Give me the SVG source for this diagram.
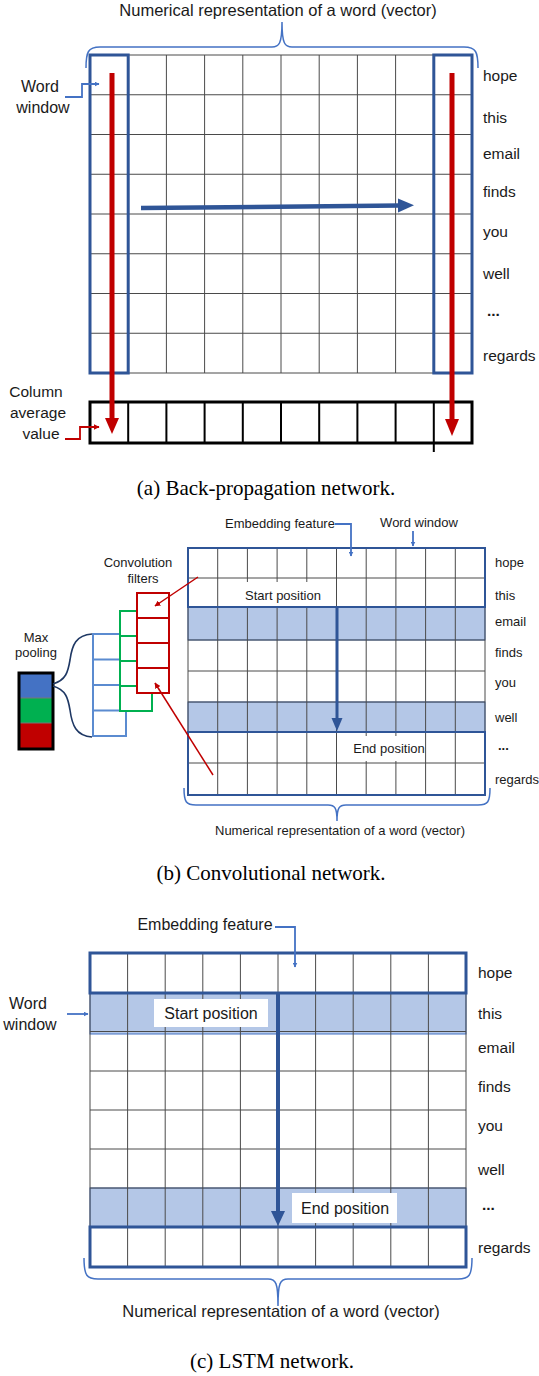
<svg xmlns="http://www.w3.org/2000/svg" width="539" height="1376" viewBox="0 0 539 1376">
  <style>
    .lbl { font-family: "Liberation Sans", Arial, sans-serif; fill: #1a1a1a; }
    .dots { font-weight: bold; }
    .cap { font-family: "Liberation Serif", "Times New Roman", serif; fill: #000; font-size: 21px; }
    .grid { fill: none; stroke: #4a4a4a; stroke-width: 1; }
    .win { fill: none; stroke: #2F5597; }
    .shade { fill: #B4C7E7; stroke: #4472C4; stroke-width: 1; }
    .brace { fill: none; stroke: #4472C4; stroke-width: 1.5; }
    .lead { fill: none; stroke: #4472C4; stroke-width: 1.8; }
    .redlead { fill: none; stroke: #C00000; stroke-width: 1.8; }
    .mask { fill: #fff; stroke: none; }
  </style>
  <defs>
    <marker id="arrBlue" viewBox="0 0 10 10" refX="9" refY="5" markerWidth="5" markerHeight="5" orient="auto" markerUnits="userSpaceOnUse">
      <path d="M0,0 L10,5 L0,10 z" fill="#4472C4"/>
    </marker>
    <marker id="arrRed" viewBox="0 0 10 10" refX="9" refY="5" markerWidth="6" markerHeight="6" orient="auto" markerUnits="userSpaceOnUse">
      <path d="M0,0 L10,5 L0,10 z" fill="#C00000"/>
    </marker>
  </defs>

  <!-- ===== Panel (a): back-propagation ===== -->
  <g id="panel-a">
    <text class="lbl" x="278" y="16" font-size="16.5" text-anchor="middle">Numerical representation of a word (vector)</text>
    <path class="brace" d="M86,68 C86,52 88,47 100,47 H272 C279,47 282,44 282,22 C282,44 285,47 292,47 H464 C476,47 478,52 478,68"/>

    <g id="a-matrix">
      <path class="grid" d="M90,55 V373 M128.2,55 V373 M166.4,55 V373 M204.6,55 V373 M242.8,55 V373 M281,55 V373 M319.2,55 V373 M357.4,55 V373 M395.6,55 V373 M433.8,55 V373 M472,55 V373
        M90,55 H472 M90,94.75 H472 M90,134.5 H472 M90,174.25 H472 M90,214 H472 M90,253.75 H472 M90,293.5 H472 M90,333.25 H472 M90,373 H472"/>
    </g>
    <g id="a-window-left"><rect class="win" x="90" y="55" width="38.2" height="318" stroke-width="3"/></g>
    <g id="a-window-right"><rect class="win" x="433.8" y="55" width="38.2" height="318" stroke-width="3"/></g>

    <g id="a-average-row">
      <rect x="90" y="402" width="382" height="41" fill="none" stroke="#000" stroke-width="3"/>
      <path d="M128.2,402 V443 M166.4,402 V443 M204.6,402 V443 M242.8,402 V443 M281,402 V443 M319.2,402 V443 M357.4,402 V443 M395.6,402 V443 M433.8,402 V452" stroke="#000" stroke-width="2"/>
    </g>

    <g id="a-words" class="lbl" font-size="15.5">
      <text x="483" y="81">hope</text>
      <text x="483" y="123">this</text>
      <text x="483" y="159">email</text>
      <text x="483" y="197">finds</text>
      <text x="483" y="237">you</text>
      <text x="483" y="279">well</text>
      <text class="dots" x="487" y="316">...</text>
      <text x="483" y="361">regards</text>
    </g>

    <g id="a-word-window-label">
      <text class="lbl" x="40" y="92" font-size="16" text-anchor="middle">Word</text>
      <text class="lbl" x="43" y="113" font-size="16" text-anchor="middle">window</text>
    </g>
    <g id="a-column-label" class="lbl" font-size="15.5" text-anchor="middle">
      <text x="36" y="397">Column</text>
      <text x="38" y="418">average</text>
      <text x="41" y="439">value</text>
    </g>
  </g>

  <g id="connectors-a">
    <path class="lead" d="M65,97 H82 V84 H99" marker-end="url(#arrBlue)"/>
    <path class="redlead" d="M65,439 H80 V427 H99" marker-end="url(#arrRed)"/>
    <!-- column scans -->
    <line x1="112" y1="73" x2="112" y2="420" stroke="#C00000" stroke-width="5"/>
    <polygon points="105,418 119,418 112,434" fill="#C00000"/>
    <line x1="452" y1="73" x2="452" y2="421" stroke="#C00000" stroke-width="5"/>
    <polygon points="445,419 459,419 452,436" fill="#C00000"/>
    <!-- window sweep -->
    <line x1="141" y1="208" x2="400" y2="205.5" stroke="#2F5597" stroke-width="4.5"/>
    <polygon points="398,198.5 398,212.5 414,205.3" fill="#2F5597"/>
  </g>
  <text class="cap" x="266" y="495" text-anchor="middle">(a) Back-propagation network.</text>

  <!-- ===== Panel (b): convolutional ===== -->
  <g id="panel-b">
    <g id="b-matrix">
      <rect class="shade" x="188" y="607" width="297" height="33"/>
      <rect class="shade" x="188" y="702" width="297" height="30"/>
      <path class="grid" d="M188,548 V795 M217.7,548 V795 M247.4,548 V795 M277.1,548 V795 M306.8,548 V795 M336.5,548 V795 M366.2,548 V795 M395.9,548 V795 M425.6,548 V795 M455.3,548 V795 M485,548 V795
        M188,548 H485 M188,578 H485 M188,607 H485 M188,640 H485 M188,671 H485 M188,702 H485 M188,732 H485 M188,763 H485 M188,795 H485"/>
      <rect class="mask" x="220" y="582" width="115" height="24"/>
      <rect class="mask" x="340" y="736" width="85" height="25"/>
      <text class="lbl" x="283" y="600" font-size="13" text-anchor="middle">Start position</text>
      <text class="lbl" x="389" y="753" font-size="13" text-anchor="middle">End position</text>
    </g>
    <g id="b-window-start"><rect class="win" x="188" y="548" width="297" height="59" stroke-width="2"/></g>
    <g id="b-window-end"><rect class="win" x="188" y="732" width="297" height="63" stroke-width="2"/></g>

    <g id="b-words" class="lbl" font-size="13">
      <text x="495" y="567">hope</text>
      <text x="495" y="600">this</text>
      <text x="495" y="626">email</text>
      <text x="495" y="657">finds</text>
      <text x="495" y="687">you</text>
      <text x="495" y="722">well</text>
      <text class="dots" x="498" y="750">...</text>
      <text x="495" y="784">regards</text>
    </g>

    <text class="lbl" x="280" y="528" font-size="13" text-anchor="middle">Embedding feature</text>
    <text class="lbl" x="419" y="527" font-size="13" text-anchor="middle">Word window</text>

    <path class="brace" d="M184,788 C184,802 186,805 196,805 H328 C335,805 337,808 337,821 C337,808 339,805 346,805 H478 C488,805 490,802 490,788"/>
    <text class="lbl" x="340" y="835" font-size="13" text-anchor="middle">Numerical representation of a word (vector)</text>

    <g id="b-filter-blue">
      <rect x="93" y="634" width="33" height="102" fill="#fff" stroke="#5B8BD0" stroke-width="2"/>
      <path d="M93,659.5 H126 M93,685 H126 M93,710.5 H126" stroke="#5B8BD0" stroke-width="2"/>
    </g>
    <g id="b-filter-green">
      <rect x="120" y="611" width="32" height="100" fill="#fff" stroke="#00B050" stroke-width="2"/>
      <path d="M120,636 H152 M120,661 H152 M120,686 H152" stroke="#00B050" stroke-width="2"/>
    </g>
    <g id="b-filter-red">
      <rect x="137" y="593" width="32" height="100" fill="#fff" stroke="#C00000" stroke-width="2"/>
      <path d="M137,618 H169 M137,643 H169 M137,668 H169" stroke="#C00000" stroke-width="2"/>
    </g>
    <text class="lbl" x="138" y="567" font-size="13" text-anchor="middle">Convolution</text>
    <text class="lbl" x="143" y="583" font-size="13" text-anchor="middle">filters</text>

    <g id="b-max-pooling">
      <rect x="19" y="673" width="34" height="25" fill="#4472C4"/>
      <rect x="19" y="698" width="34" height="25" fill="#00B050"/>
      <rect x="19" y="723" width="34" height="26" fill="#C00000"/>
      <path d="M19,698 H53 M19,723 H53" stroke="#777" stroke-width="1"/>
      <rect x="19" y="673" width="34" height="76" fill="none" stroke="#000" stroke-width="3"/>
      <text class="lbl" x="36" y="642" font-size="13" text-anchor="middle">Max</text>
      <text class="lbl" x="36" y="657" font-size="13" text-anchor="middle">pooling</text>
    </g>
  </g>

  <g id="connectors-b">
    <path class="lead" d="M335,524 H351 V556" marker-end="url(#arrBlue)"/>
    <path class="lead" d="M413,531 V546" marker-end="url(#arrBlue)"/>
    <path d="M53,684 C66,680 68,672 70,660 C72,645 76,635 92,634" fill="none" stroke="#1F3864" stroke-width="1.6"/>
    <path d="M53,686 C66,690 68,698 70,710 C72,725 76,736 92,737" fill="none" stroke="#1F3864" stroke-width="1.6"/>
    <line x1="198" y1="577" x2="155" y2="606" stroke="#C00000" stroke-width="1.5" marker-end="url(#arrRed)"/>
    <line x1="213" y1="775" x2="155" y2="683" stroke="#C00000" stroke-width="1.5" marker-end="url(#arrRed)"/>
    <line x1="337" y1="607" x2="337" y2="720" stroke="#2F5597" stroke-width="3"/>
    <polygon points="331.5,718 342.5,718 337,731" fill="#2F5597"/>
  </g>
  <text class="cap" x="271" y="880" text-anchor="middle">(b) Convolutional network.</text>

  <!-- ===== Panel (c): LSTM ===== -->
  <g id="panel-c">
    <g id="c-matrix">
      <rect class="shade" x="90" y="993" width="376" height="41"/>
      <rect class="shade" x="90" y="1188" width="376" height="39"/>
      <path class="grid" d="M90,953 V1267 M127.6,953 V1267 M165.2,953 V1267 M202.8,953 V1267 M240.4,953 V1267 M278,953 V1267 M315.6,953 V1267 M353.2,953 V1267 M390.8,953 V1267 M428.4,953 V1267 M466,953 V1267
        M90,953 H466 M90,993 H466 M90,1031.5 H466 M90,1071 H466 M90,1110 H466 M90,1149 H466 M90,1188 H466 M90,1227 H466 M90,1267 H466"/>
      <rect class="mask" x="154" y="999" width="114" height="28"/>
      <rect class="mask" x="292" y="1193" width="105" height="30"/>
      <text class="lbl" x="211" y="1019" font-size="16" text-anchor="middle">Start position</text>
      <text class="lbl" x="345" y="1214" font-size="16" text-anchor="middle">End position</text>
    </g>
    <g id="c-window-start"><rect class="win" x="90" y="953" width="376" height="40" stroke-width="3"/></g>
    <g id="c-window-end"><rect class="win" x="90" y="1227" width="376" height="40" stroke-width="3"/></g>

    <g id="c-words" class="lbl" font-size="15.5">
      <text x="478" y="978">hope</text>
      <text x="478" y="1019">this</text>
      <text x="478" y="1053">email</text>
      <text x="478" y="1092">finds</text>
      <text x="478" y="1131">you</text>
      <text x="478" y="1175">well</text>
      <text class="dots" x="482" y="1210">...</text>
      <text x="478" y="1253">regards</text>
    </g>

    <text class="lbl" x="205" y="930" font-size="16" text-anchor="middle">Embedding feature</text>
    <text class="lbl" x="28" y="1009" font-size="16" text-anchor="middle">Word</text>
    <text class="lbl" x="30" y="1030" font-size="16" text-anchor="middle">window</text>

    <path class="brace" d="M84,1258 C84,1276 87,1279 98,1279 H268 C276,1279 278,1283 278,1306 C278,1283 280,1279 288,1279 H458 C469,1279 472,1276 472,1258"/>
    <text class="lbl" x="281" y="1317" font-size="16.5" text-anchor="middle">Numerical representation of a word (vector)</text>
  </g>

  <g id="connectors-c">
    <path class="lead" d="M275,927 H295 V967" marker-end="url(#arrBlue)"/>
    <path class="lead" d="M67,1014 H88" marker-end="url(#arrBlue)"/>
    <line x1="278" y1="993" x2="278" y2="1213" stroke="#2F5597" stroke-width="4"/>
    <polygon points="271,1211 285,1211 278,1226" fill="#2F5597"/>
  </g>
  <text class="cap" x="272" y="1368" text-anchor="middle">(c) LSTM network.</text>
</svg>
